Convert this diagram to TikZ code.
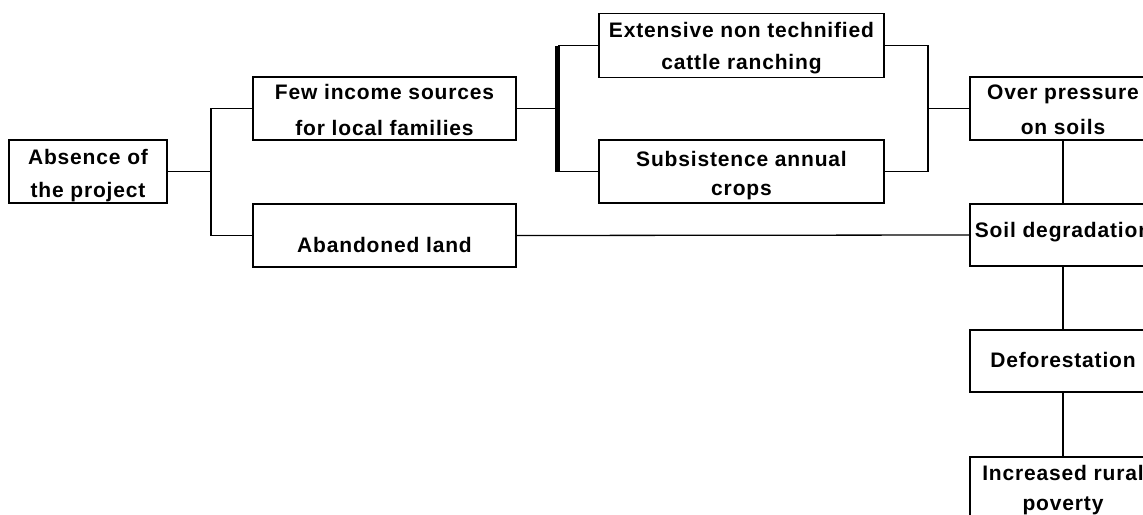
\documentclass[tikz,border=0pt]{standalone}
\usepackage{fontspec}
\newfontfamily\boxfont{Liberation Sans}[LetterSpace=4]
\begin{document}
\begin{tikzpicture}[x=1pt,y=-1pt,
  box/.style={draw,line width=1.3pt,inner sep=0pt,minimum height=63pt},
  lbl/.style={anchor=base,inner sep=0pt,font=\boxfont\bfseries\fontsize{21}{25}\selectfont},
  conn/.style={line width=1.3pt},
  heavy/.style={line width=5pt}]
\useasboundingbox (0,0) rectangle (1143,514);
\fill[white] (0,0) rectangle (1143,514);
\clip (0,0) rectangle (1143,514);
% boxes
\node[box,minimum width=158pt] (absence) at (88,171.5) {};
\node[box,minimum width=263pt] (few) at (384.5,108.5) {};
\node[box,minimum width=263pt] (aband) at (384.5,235.5) {};
\node[box,minimum width=285pt,minimum height=64pt] (ext) at (741.5,45.5) {};
\node[box,minimum width=285pt] (subs) at (741.5,171.5) {};
\node[box,minimum width=186pt] (over) at (1063,108.5) {};
\node[box,minimum width=186pt,minimum height=62pt] (soil) at (1063,235) {};
\node[box,minimum width=186pt,minimum height=62pt] (defo) at (1063,361) {};
\node[box,minimum width=186pt] (incr) at (1063,488.5) {};
% labels
\node[lbl] (absence-a) at (88,164) {Absence of};
\node[lbl] (absence-b) at (88,197) {the project};
\node[lbl] (few-a) at (384.5,99) {Few income sources};
\node[lbl] (few-b) at (384.5,135.5) {for local families};
\node[lbl] (aband-a) at (384.5,252) {Abandoned land};
\node[lbl] (ext-a) at (741.5,37.5) {Extensive non technified};
\node[lbl] (ext-b) at (741.5,69) {cattle ranching};
\node[lbl] (subs-a) at (741.5,166.5) {Subsistence annual};
\node[lbl] (subs-b) at (741.5,195) {crops};
\node[lbl] (over-a) at (1063,99.5) {Over pressure};
\node[lbl] (over-b) at (1063,134) {on soils};
\node[lbl] (soil-a) at (1063,237.5) {Soil degradation};
\node[lbl] (defo-a) at (1063,367) {Deforestation};
\node[lbl] (incr-a) at (1063,480) {Increased rural};
\node[lbl] (incr-b) at (1063,510) {poverty};
% connectors
\coordinate (j1) at (211,171.5);
\coordinate (j2) at (557.5,108.5);
\coordinate (j3) at (928,108.5);
\draw[conn] (absence.east) -- (j1);
\draw[conn] (few.west) -| (j1) |- (aband.west);
\draw[conn] (few.east) -- (j2);
\draw[conn] (ext.west) -- (ext.west -| j2);
\draw[conn] (subs.west) -- (subs.west -| j2);
\draw[heavy] (ext.west -| j2) -- (subs.west -| j2);
\draw[conn] (ext.east) -| (j3) |- (subs.east);
\draw[conn] (j3) -- (over.west);
\draw[conn] (aband.east) -- (soil.west);
\draw[conn] (over.south) -- (soil.north);
\draw[conn] (soil.south) -- (defo.north);
\draw[conn] (defo.south) -- (incr.north);
\end{tikzpicture}
\end{document}
